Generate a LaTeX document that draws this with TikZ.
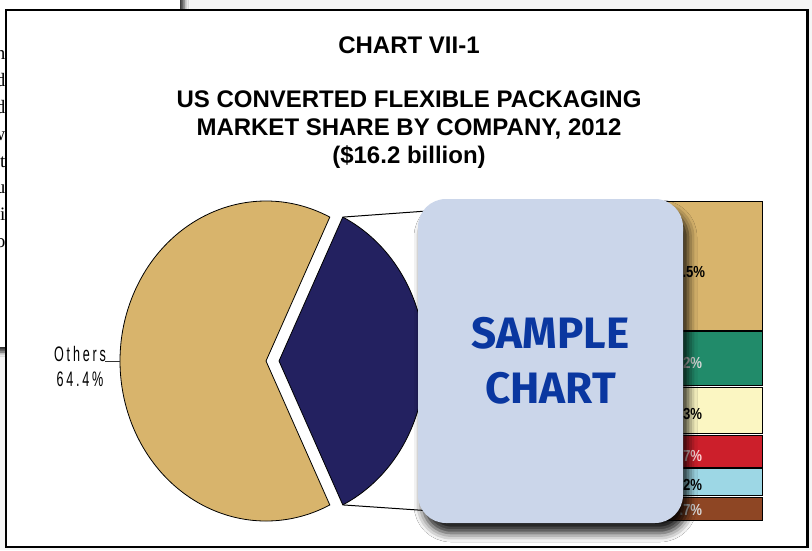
\documentclass[tikz,border=0pt]{standalone}
\usepackage{fontspec}
\usetikzlibrary{shadows.blur}
\setmainfont{Liberation Sans}
\newfontfamily\serifdoc{Liberation Serif}
\newfontfamily\stampfont{Fira Sans}
\newfontfamily\trackfont[LetterSpace=22]{Liberation Sans}

\definecolor{pietan}{RGB}{216,180,108}
\definecolor{pienavy}{RGB}{35,33,96}
\definecolor{bargreen}{RGB}{33,139,106}
\definecolor{barcream}{RGB}{251,246,194}
\definecolor{barred}{RGB}{204,31,43}
\definecolor{barsky}{RGB}{157,215,229}
\definecolor{barbrown}{RGB}{142,70,36}
\definecolor{stampfill}{RGB}{203,214,234}
\definecolor{stampblue}{RGB}{10,55,160}

\tikzset{
  slice/.style={draw=black,line width=0.8pt},
  barseg/.style={draw=black,line width=0.9pt},
  pct/.style={font=\bfseries\fontsize{16}{16}\selectfont,anchor=east,xscale=0.82},
  samplebox/.style={fill=stampfill,rounded corners=28pt,minimum width=265pt,
    minimum height=324pt,inner sep=0pt,text=stampblue,align=center,
    font=\stampfont\bfseries\fontsize{44}{55}\selectfont,
    blur shadow={shadow xshift=5pt,shadow yshift=-10pt,shadow blur radius=9pt,shadow opacity=90}},
}

\begin{document}
\begin{tikzpicture}[x=1pt,y=-1pt]
    \useasboundingbox (0,0) rectangle (812,550);
    %% desktop and the page behind
    \fill[gray!8] (0,0) rectangle (812,550);
    \fill[white,blur shadow={shadow xshift=4pt,shadow yshift=-5pt,shadow blur radius=4pt,shadow opacity=80}]
        (-20,-20) rectangle (180,347);
    \foreach \ch [count=\i] in {n,d,d,w,t,u,i,o}
        \node[font=\serifdoc\fontsize{19}{19}\selectfont,anchor=base east] (doc\i) at (9,33+26.8*\i) {\ch};
    %% chart window
    \filldraw[fill=white,line width=2.2pt] (6,10) rectangle (807.5,547);
    %% titles
    \node[font=\bfseries\fontsize{24}{28}\selectfont] (chartno) at (409,45) {CHART VII-1};
    \node[font=\bfseries\fontsize{24}{28}\selectfont,align=center] (charttitle) at (409,130)
        {US CONVERTED FLEXIBLE PACKAGING\\MARKET SHARE BY COMPANY, 2012\\(\$16.2 billion)};
    %% pie
    \coordinate (tanTop) at (329.8,217.1);
    \coordinate (tanC) at (266,361);
    \coordinate (navyTop) at (342.8,217.1);
    \coordinate (navyBot) at (342.8,504.9);
    \coordinate (navyC) at (279,361);
    \filldraw[slice,fill=pietan] (tanC) -- (tanTop)
        arc[start angle=64.1,end angle=295.9,x radius=146pt,y radius=160pt] -- cycle;
    \filldraw[slice,fill=pienavy] (navyC) -- (navyBot)
        arc[start angle=-64.1,end angle=64.1,x radius=146pt,y radius=160pt] -- cycle;
    %% label
    \node[font=\trackfont\fontsize{21}{25}\selectfont,xscale=0.6,align=center] (others) at (80,366) {Others\\64.4\%};
    \coordinate (othersEnd) at (105,361);
    \coordinate (tanW) at (120,361);
    \draw[gray!40!black,line width=0.6pt] (othersEnd) -- (tanW);
    %% bar
    \foreach \t/\b/\c in {201/330/pietan,331.5/385.5/bargreen,387/433/barcream,
                          435/467/barred,468.5/495/barsky,497/520/barbrown}
        \filldraw[barseg,fill=\c] (565,\t) rectangle (762,\b);
    \coordinate (barNW) at (565,201);
    \coordinate (barSW) at (565,520);
    \draw[line width=1pt] (navyTop) -- (barNW);
    \draw[line width=1pt] (navyBot) -- (barSW);
    \node[pct] (p1) at (708,272) {.5\%};
    \node[pct,text=gray!30] (p2) at (705,363) {2\%};
    \node[pct] (p3) at (705,414) {3\%};
    \node[pct,text=red!15] (p4) at (705,456) {7\%};
    \node[pct] (p5) at (705,485) {2\%};
    \node[pct,text=gray!30] (p6) at (705,510) {.7\%};
    %% box on top
    \node[samplebox] (sample) at (550.5,361) {SAMPLE\\CHART};
\end{tikzpicture}
\end{document}
